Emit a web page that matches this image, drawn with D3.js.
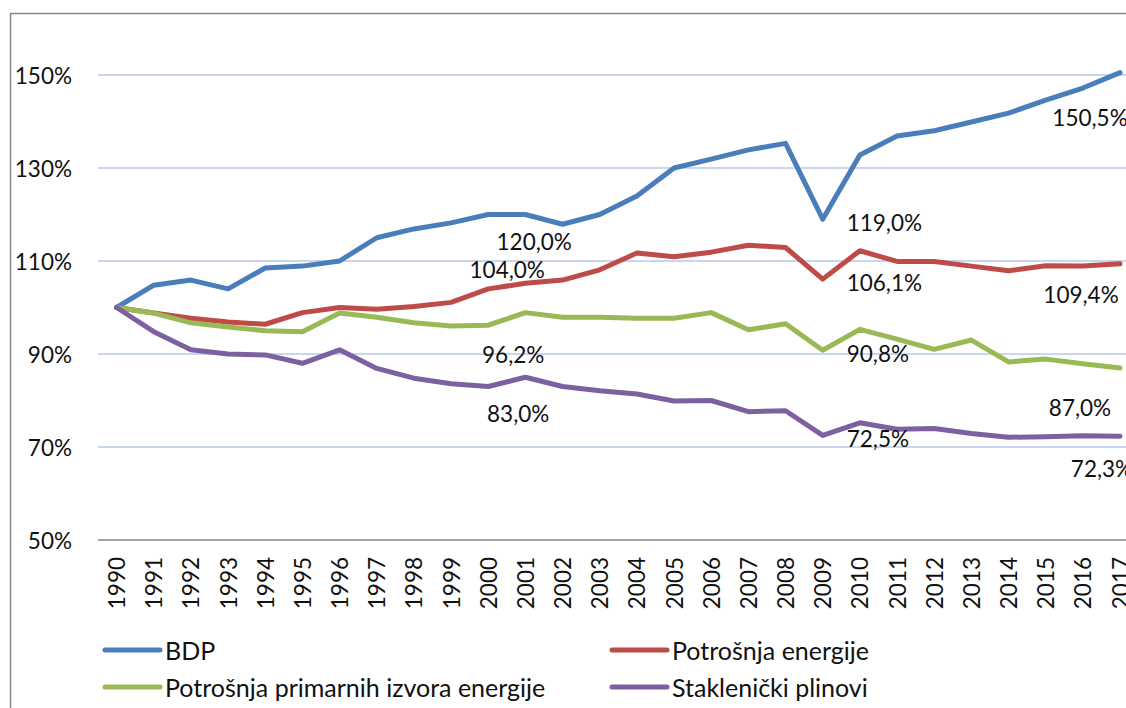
<!DOCTYPE html>
<html>
<head>
<meta charset="utf-8">
<script src="https://cdn.jsdelivr.net/npm/d3@7"></script>
<style>
  body { margin: 0; background: #fff; }
  svg { display: block; font-family: Lato, "Open Sans", sans-serif; }
</style>
</head>
<body>
<script>
var years = d3.range(1990, 2018)
var seriesNames = ['BDP', 'Potrošnja energije', 'Potrošnja primarnih izvora energije', 'Staklenički plinovi']
var bdp = [100, 104.8, 105.9, 104, 108.5, 108.9, 110, 115, 116.9, 118.2, 120, 120, 117.9, 120, 124, 130, 131.9, 133.9, 135.3, 119, 132.8, 136.9, 138, 139.9, 141.8, 144.6, 147.2, 150.5]
var energija = [100, 98.8, 97.7, 96.9, 96.4, 98.9, 100, 99.6, 100.2, 101.1, 104, 105.2, 105.9, 108.1, 111.7, 110.9, 111.9, 113.4, 112.9, 106.1, 112.2, 109.9, 109.9, 108.9, 107.9, 109, 108.9, 109.4]
var primarna = [100, 98.8, 96.7, 95.8, 95, 94.8, 98.8, 97.9, 96.7, 96, 96.2, 98.9, 97.9, 97.9, 97.7, 97.7, 98.9, 95.2, 96.5, 90.8, 95.3, 93.2, 91, 93, 88.3, 88.9, 87.9, 87]
var plinovi = [100, 94.8, 90.9, 90, 89.8, 88, 90.9, 86.9, 84.8, 83.6, 83, 85, 83, 82.1, 81.4, 79.9, 80, 77.6, 77.8, 72.5, 75.2, 73.8, 74, 72.9, 72.1, 72.2, 72.4, 72.3]
var yTicks = [50, 70, 90, 110, 130, 150]
var labelYears = [2000, 2009, 2017]

var colors = ['#4a7ebb', '#be4b48', '#98b954', '#7d60a0']
var allSeries = [bdp, energija, primarna, plinovi]

var width = 1126, height = 708

var svg = d3.select('body').append('svg')
    .attr('width', width)
    .attr('height', height)

// frame
svg.append('path')
    .attr('d', 'M10.5,' + height + 'V13.5H' + width)
    .attr('fill', 'none')
    .attr('stroke', '#888')
    .attr('stroke-width', 1.5)

// scales
var xScale = d3.scaleBand()
    .domain(years)
    .range([98, 1138.6])

var yScale = d3.scaleLinear()
    .domain([50, 160])
    .range([540, 28.5])

function cx(year) { return xScale(year) + xScale.bandwidth() / 2 }

// gridlines
svg.append('g')
    .selectAll('line')
    .data(yTicks.filter(function(d) { return d > 50 }))
    .enter()
    .append('line')
    .attr('x1', 98)
    .attr('x2', width)
    .attr('y1', function(d) { return yScale(d) })
    .attr('y2', function(d) { return yScale(d) })
    .attr('stroke', '#b7c8e8')
    .attr('stroke-width', 1.5)

// y labels
svg.append('g')
    .selectAll('text')
    .data(yTicks)
    .enter()
    .append('text')
    .attr('x', 72)
    .attr('y', function(d) { return yScale(d) })
    .attr('text-anchor', 'end')
    .attr('dominant-baseline', 'central')
    .attr('font-size', 22.5)
    .attr('fill', '#111')
    .text(function(d) { return d + '%' })

// x axis line
svg.append('line')
    .attr('x1', 98)
    .attr('x2', width)
    .attr('y1', yScale(50))
    .attr('y2', yScale(50))
    .attr('stroke', '#868686')
    .attr('stroke-width', 1.5)

// year labels
svg.append('g')
    .selectAll('text')
    .data(years)
    .enter()
    .append('text')
    .attr('transform', function(d) { return 'translate(' + cx(d) + ',557) rotate(-90)' })
    .attr('text-anchor', 'end')
    .attr('dominant-baseline', 'central')
    .attr('font-size', 22.5)
    .attr('fill', '#111')
    .text(function(d) { return d })

// lines
var line = d3.line()
    .x(function(d, i) { return cx(years[i]) })
    .y(function(d) { return yScale(d) })

svg.append('g')
    .selectAll('path')
    .data(allSeries)
    .enter()
    .append('path')
    .attr('d', line)
    .attr('fill', 'none')
    .attr('stroke', function(d, i) { return colors[i] })
    .attr('stroke-width', 5)
    .attr('stroke-linejoin', 'round')
    .attr('stroke-linecap', 'round')

// value labels, offsets as placed by hand in the original
var offsets = {
  2000: [[46, 27, 'middle'], [19, -19, 'middle'], [25, 29, 'middle'], [30, 27, 'middle']],
  2009: [[24, 3, 'start'], [24, 3, 'start'], [24, 3, 'start'], [24, 3, 'start']],
  2017: [[-30, 45, 'middle'], [-39, 31, 'middle'], [-40, 40, 'middle'], [-18, 32, 'middle']]
}
var fmt = d3.format('.1f')
labelYears.forEach(function(year) {
  var idx = years.indexOf(year)
  allSeries.forEach(function(s, k) {
    var o = offsets[year][k]
    svg.append('text')
      .attr('x', cx(year) + o[0])
      .attr('y', yScale(s[idx]) + o[1])
      .attr('text-anchor', o[2])
      .attr('dominant-baseline', 'central')
      .attr('font-size', 22.5)
      .attr('fill', '#111')
      .text(fmt(s[idx]).replace('.', ',') + '%')
  })
})

// legend
var legendPos = [[105, 650], [612, 650], [105, 687], [612, 687]]
var legend = svg.append('g')
    .selectAll('g')
    .data(seriesNames)
    .enter()
    .append('g')
    .attr('transform', function(d, i) { return 'translate(' + legendPos[i][0] + ',' + legendPos[i][1] + ')' })

legend.append('line')
    .attr('x1', 0)
    .attr('x2', 55)
    .attr('stroke', function(d, i) { return colors[i] })
    .attr('stroke-width', 5)
    .attr('stroke-linecap', 'round')

legend.append('text')
    .attr('x', 60)
    .attr('dominant-baseline', 'central')
    .attr('font-size', 25)
    .attr('fill', '#111')
    .text(function(d) { return d })
</script>
</body>
</html>
